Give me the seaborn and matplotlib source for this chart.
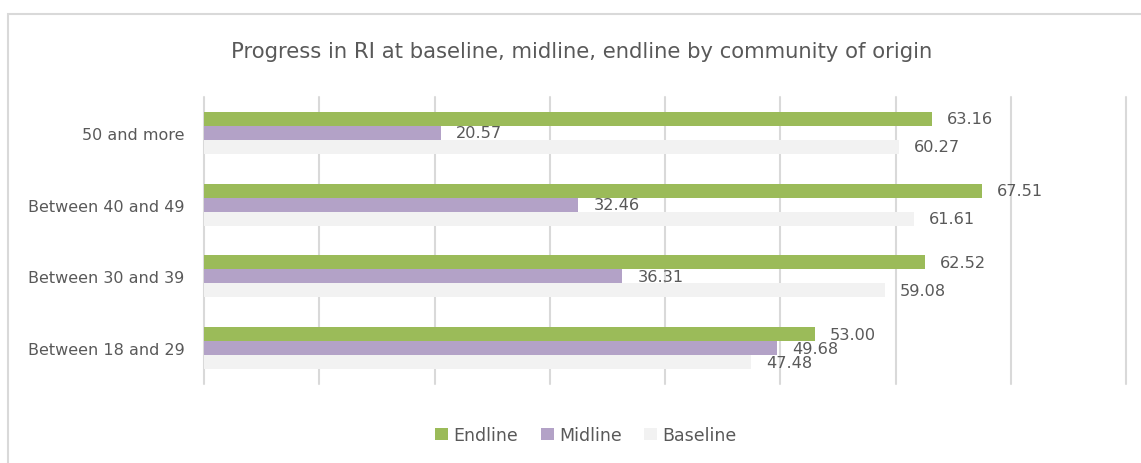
import matplotlib
matplotlib.use("Agg")
import matplotlib.pyplot as plt
from matplotlib.patches import Patch, Rectangle
import pandas as pd
import seaborn as sns

# Age groups and RI scores per survey round
categories = ["50 and more", "Between 40 and 49", "Between 30 and 39", "Between 18 and 29"]
endline = [63.16, 67.51, 62.52, 53.00]
midline = [20.57, 32.46, 36.31, 49.68]
baseline = [60.27, 61.61, 59.08, 47.48]
rounds = ["Endline", "Midline", "Baseline"]
colors = ["#9BBB59", "#B3A2C7", "#F2F2F2"]
title = "Progress in RI at baseline, midline, endline by community of origin"

df = pd.DataFrame({
    "group": categories * 3,
    "round": [r for r in rounds for _ in categories],
    "value": endline + midline + baseline,
})

sns.set_theme(style="white")
plt.rcParams["font.family"] = ["DejaVu Sans"]
text_color = "#595959"
grid_color = "#D9D9D9"

W, H = 1141, 464
fig = plt.figure(figsize=(W / 100, H / 100), dpi=100)
ax = fig.add_axes([204 / W, 1 - 385 / H, (1126 - 204) / W, (385 - 98) / H])

sns.barplot(data=df, y="group", x="value", hue="round", order=categories,
            hue_order=rounds, palette=colors, orient="h", width=0.585,
            saturation=1, ax=ax, legend=False, errorbar=None,
            linewidth=0, edgecolor="none")

ax.set_xlim(0, 80)
ax.set_xticks(range(0, 81, 10))
ax.set_xticklabels([])
ax.grid(axis="x", color=grid_color, linewidth=1.5)
ax.grid(axis="y", visible=False)
ax.set_axisbelow(True)
for gl in ax.get_xgridlines():
    gl.set_clip_on(False)
for s in ax.spines.values():
    s.set_visible(False)
ax.set_xlabel("")
ax.set_ylabel("")
ax.tick_params(axis="y", length=0, pad=14, labelsize=11.5, labelcolor=text_color)
ax.tick_params(axis="x", length=0)

for cont in ax.containers:
    ax.bar_label(cont, fmt="%.2f", padding=11, fontsize=11.6, color=text_color)

fig.text(582 / W, 1 - 52 / H, title, ha="center", va="center",
         fontsize=15.2, color=text_color)

handles = [Patch(facecolor=c, edgecolor="none") for c in colors]
fig.legend(handles, rounds, loc="center", bbox_to_anchor=(586 / W, 1 - 436 / H),
           ncol=3, frameon=False, fontsize=12.5, labelcolor=text_color,
           handlelength=0.75, handleheight=0.75, handletextpad=0.3,
           columnspacing=1.3)

fig.add_artist(Rectangle((8 / W, -0.1), 1.2, 1.1 - 15 / H, transform=fig.transFigure,
                         fill=False, edgecolor=grid_color, linewidth=1.5))

fig.savefig("out.png", dpi=100)
